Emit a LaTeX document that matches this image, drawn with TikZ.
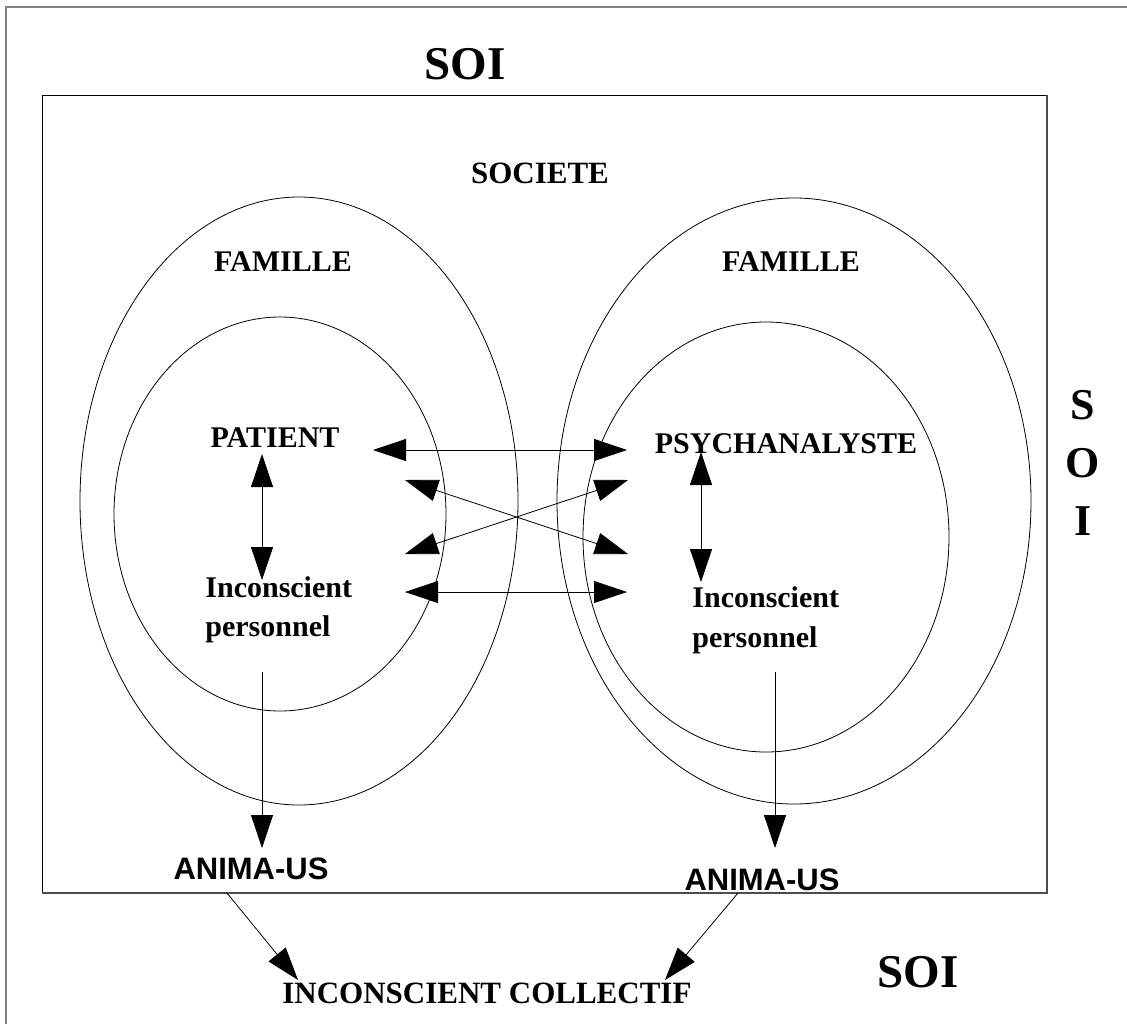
\documentclass[tikz,border=0pt]{standalone}
\usepackage{fontspec}
\setmainfont{Liberation Serif}
\setsansfont{Liberation Sans}
\usetikzlibrary{arrows.meta}
\begin{document}
\begin{tikzpicture}[x=1pt,y=-1pt,
  line width=0.8pt,
  tri/.tip={Triangle[length=33pt,width=22pt]},
  conn/.style={-tri},
  biconn/.style={tri-tri},
  lbl/.style={inner sep=0pt, font=\bfseries\fontsize{30}{36}\selectfont},
  mid/.style={inner sep=0pt, font=\bfseries\fontsize{31}{36}\selectfont},
  big/.style={inner sep=0pt, font=\bfseries\fontsize{47}{56}\selectfont},
  anima/.style={inner sep=0pt, font=\sffamily\bfseries\fontsize{31}{36}\selectfont},
  frame/.style={draw=gray, line width=1.4pt},
  shade/.style={draw=gray!60!black, line width=1.4pt},
]
\useasboundingbox (0,0) rectangle (1127,1023);
\fill[white] (0,0) rectangle (1127,1023);

% outer frame (SOI)
\draw[frame] (6,1030) -- (6,7) -- (1135,7);

% society box
\draw (42,95) rectangle (1047,893);
\draw[shade] (1047,95) -- (1047,893) -- (42,893);

% family circles and personal circles
\draw (299,501) ellipse [x radius=219, y radius=304];
\draw (280,514) ellipse [x radius=166, y radius=197];
\draw (794,501) ellipse [x radius=237, y radius=303];
\draw (766,537) ellipse [x radius=183, y radius=215];

% labels
\node[big, anchor=base] (soiTop) at (465,79) {SOI};
\node[mid, anchor=base] (societe) at (540,183) {SOCIETE};
\node[lbl, anchor=base] (famL) at (283,271) {FAMILLE};
\node[lbl, anchor=base] (famR) at (791,271) {FAMILLE};
\node[lbl, anchor=base] (patient) at (275,447) {PATIENT};
\node[lbl, anchor=base] (psy) at (786,453) {PSYCHANALYSTE};
\node[lbl, anchor=base west] (incL) at (205,597)
  {\vtop{\baselineskip=39pt\hbox{Inconscient}\hbox{personnel}}};
\node[lbl, anchor=base west] (incR) at (692,607)
  {\vtop{\baselineskip=40pt\hbox{Inconscient}\hbox{personnel}}};
\node[anima, anchor=base] (animaL) at (251,879) {ANIMA-US};
\node[anima, anchor=base] (animaR) at (762,890) {ANIMA-US};
\node[mid, anchor=base west] (collectif) at (282,1003) {INCONSCIENT COLLECTIF};
\node[big, anchor=base] (soiBot) at (918,987) {SOI};
\node[inner sep=0pt, font=\bfseries\fontsize{44}{50}\selectfont, anchor=base]
  (soiSide) at (1083,419)
  {\vtop{\baselineskip=58pt\hbox to 0pt{\hss S\hss}\hbox to 0pt{\hss O\hss}\hbox to 0pt{\hss I\hss}}};

% arrow end points
\coordinate (hTl) at (373,450);  \coordinate (hTr) at (627,450);
\coordinate (dA1) at (405,480);  \coordinate (dA2) at (628,554);
\coordinate (dB1) at (405,554);  \coordinate (dB2) at (628,480);
\coordinate (hBl) at (405,592);  \coordinate (hBr) at (627,592);
\coordinate (vLt) at (262,454);  \coordinate (vLb) at (262,580);
\coordinate (vRt) at (701,452);  \coordinate (vRb) at (701,582);
\coordinate (sL) at (262,672);   \coordinate (eL) at (262,848);
\coordinate (sR) at (775,672);   \coordinate (eR) at (775,848);
\coordinate (cL1) at (227,893);  \coordinate (cL2) at (298,980);
\coordinate (cR1) at (738,893);  \coordinate (cR2) at (665,980);

% exchanges between patient and psychanalyste
\draw[biconn] (hTl) -- (hTr);
\draw[biconn] (dA1) -- (dA2);
\draw[biconn] (dB1) -- (dB2);
\draw[biconn] (hBl) -- (hBr);
\draw[biconn] (vLt) -- (vLb);
\draw[biconn] (vRt) -- (vRb);

% descent towards the collective unconscious
\draw[conn] (sL) -- (eL);
\draw[conn] (sR) -- (eR);
\draw[conn] (cL1) -- (cL2);
\draw[conn] (cR1) -- (cR2);
\end{tikzpicture}
\end{document}
